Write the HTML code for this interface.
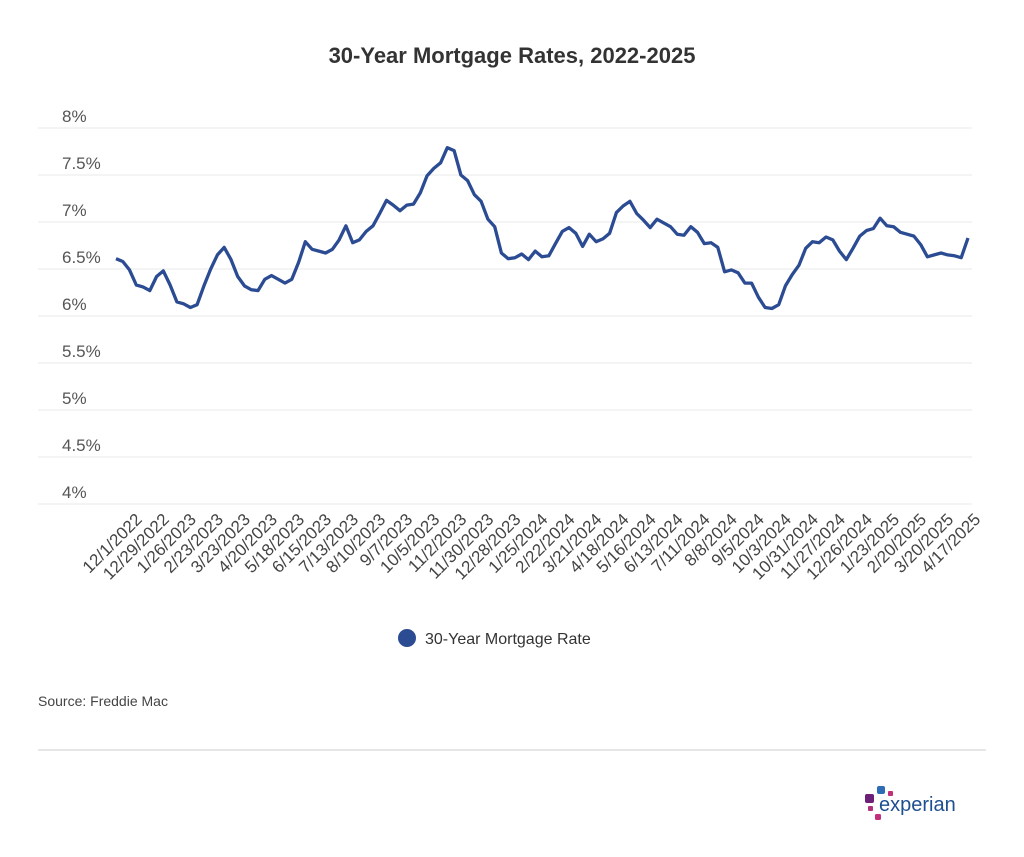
<!DOCTYPE html>
<html><head><meta charset="utf-8"><style>
html,body{margin:0;padding:0;background:#fff;width:1024px;height:857px;overflow:hidden;font-family:"Liberation Sans",Arial,sans-serif}
</style></head><body>
<svg width="1024" height="857" viewBox="0 0 1024 857">
<text x="512" y="63" text-anchor="middle" font-size="22" font-weight="bold" fill="#333">30-Year Mortgage Rates, 2022-2025</text>
<g id="grid"></g><g id="ylabels"></g><g id="xlabels"></g>
<path id="line" fill="none" stroke="#2b4b93" stroke-width="3.3" stroke-linejoin="round"/>
<circle cx="407" cy="638" r="9" fill="#2b4b93"/>
<text x="425" y="644" font-size="16" fill="#333">30-Year Mortgage Rate</text>
<text x="38" y="706" font-size="14" fill="#444">Source: Freddie Mac</text>
<line x1="38" y1="750" x2="986" y2="750" stroke="#ddd" stroke-width="1.5"/>
<g>
<rect x="877" y="786" width="8" height="8" rx="2" fill="#2e6db5"/>
<rect x="865" y="794" width="9" height="9" rx="2" fill="#6d2077"/>
<rect x="888" y="791" width="5" height="5" rx="1" fill="#c1307a"/>
<rect x="868" y="806" width="5" height="5" rx="1" fill="#b3307a"/>
<rect x="875" y="814" width="6" height="6" rx="1.5" fill="#c1307a"/>
<text x="879" y="811" font-size="20" fill="#1d4f91">experian</text>
</g>
</svg>
<script>
const yTicks=[4,4.5,5,5.5,6,6.5,7,7.5,8];
const yTickLabels=["4%","4.5%","5%","5.5%","6%","6.5%","7%","7.5%","8%"];
const xLabels=["12/1/2022","12/29/2022","1/26/2023","2/23/2023","3/23/2023","4/20/2023","5/18/2023","6/15/2023","7/13/2023","8/10/2023","9/7/2023","10/5/2023","11/2/2023","11/30/2023","12/28/2023","1/25/2024","2/22/2024","3/21/2024","4/18/2024","5/16/2024","6/13/2024","7/11/2024","8/8/2024","9/5/2024","10/3/2024","10/31/2024","11/27/2024","12/26/2024","1/23/2025","2/20/2025","3/20/2025","4/17/2025"];
const rates=[6.61,6.58,6.49,6.33,6.31,6.27,6.42,
6.48,6.33,6.15,6.13,6.09,6.12,6.32,6.50,6.65,6.73,6.60,6.42,6.32,6.28,6.27,6.39,6.43,6.39,6.35,6.39,6.57,6.79,6.71,6.69,6.67,6.71,6.81,6.96,6.78,6.81,6.90,6.96,7.09,7.23,7.18,7.12,7.18,7.19,7.31,7.49,7.57,7.63,7.79,7.76,7.50,7.44,7.29,7.22,7.03,6.95,6.67,6.61,
6.62,6.66,6.60,6.69,6.63,6.64,6.77,6.90,6.94,6.88,6.74,6.87,6.79,6.82,6.88,7.10,7.17,7.22,7.09,7.02,6.94,7.03,6.99,6.95,6.87,6.86,6.95,6.89,6.77,6.78,6.73,6.47,6.49,6.46,6.35,6.35,6.20,6.09,6.08,6.12,6.32,6.44,6.54,6.72,6.79,6.78,6.84,6.81,6.69,6.60,6.72,6.85,
6.91,6.93,7.04,6.96,6.95,6.89,6.87,6.85,6.76,6.63,6.65,6.67,6.65,6.64,6.62,6.83];
const NS="http://www.w3.org/2000/svg";
const x0=116,x1=968,yTop=128,yBot=504,vMin=4,vMax=8;
function xs(i){return x0+(x1-x0)*i/(rates.length-1);}
function ys(v){return yBot-(v-vMin)/(vMax-vMin)*(yBot-yTop);}
const grid=document.getElementById('grid'),yl=document.getElementById('ylabels'),xl=document.getElementById('xlabels');
yTicks.forEach((t,k)=>{
 const l=document.createElementNS(NS,'line');
 l.setAttribute('x1',38);l.setAttribute('x2',972);l.setAttribute('y1',ys(t));l.setAttribute('y2',ys(t));
 l.setAttribute('stroke','#eee');l.setAttribute('stroke-width','1.3');
 
 
 grid.appendChild(l);
 const tx=document.createElementNS(NS,'text');
 tx.setAttribute('x',62);tx.setAttribute('y',ys(t)-6);tx.setAttribute('font-size','17');tx.setAttribute('fill','#555');
 tx.textContent=yTickLabels[k];
 
 
 yl.appendChild(tx);
});
xLabels.forEach((s,k)=>{
 const i=2+4*k;const x=xs(i)+5,y=512;
 const tx=document.createElementNS(NS,'text');
 tx.setAttribute('x',x);tx.setAttribute('y',y);tx.setAttribute('text-anchor','end');
 tx.setAttribute('font-size','17');tx.setAttribute('fill','#444');
 tx.setAttribute('transform','rotate(-45 '+x+' '+y+')');
 tx.setAttribute('dominant-baseline','hanging');
 tx.textContent=s;
 
 
 xl.appendChild(tx);
});
document.getElementById('line').setAttribute('d',rates.map((v,i)=>(i?'L':'M')+xs(i).toFixed(1)+' '+ys(v).toFixed(1)).join(' '));
</script>
</body></html>
